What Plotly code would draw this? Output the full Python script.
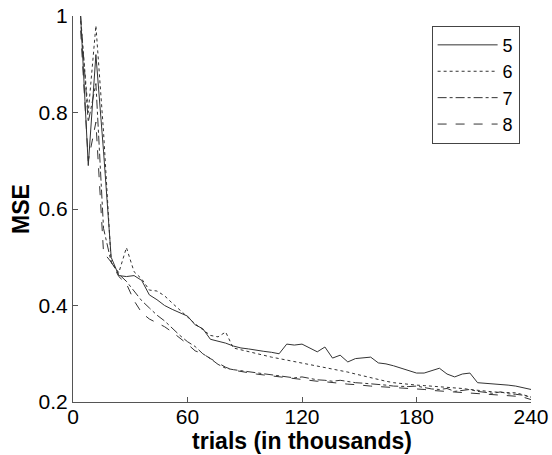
import plotly.graph_objects as go

trials = list(range(4, 241, 4))

mse_5 = [1.00, 0.69, 0.92, 0.72, 0.50, 0.462, 0.46, 0.462, 0.452, 0.422,
         0.412, 0.40, 0.392, 0.385, 0.378, 0.36, 0.352, 0.33, 0.326, 0.322,
         0.316, 0.312, 0.31, 0.307, 0.305, 0.303, 0.30, 0.32, 0.318, 0.32,
         0.312, 0.304, 0.314, 0.291, 0.297, 0.283, 0.29, 0.292, 0.293, 0.281,
         0.279, 0.275, 0.27, 0.264, 0.26, 0.26, 0.265, 0.27, 0.258, 0.252,
         0.258, 0.26, 0.24, 0.239, 0.238, 0.236, 0.235, 0.233, 0.229, 0.226]

mse_6 = [0.99, 0.80, 0.98, 0.76, 0.49, 0.468, 0.52, 0.47, 0.455, 0.432,
         0.43, 0.42, 0.405, 0.39, 0.375, 0.362, 0.35, 0.338, 0.335, 0.345,
         0.312, 0.308, 0.304, 0.30, 0.296, 0.293, 0.29, 0.287, 0.284, 0.281,
         0.278, 0.275, 0.272, 0.269, 0.266, 0.262, 0.258, 0.254, 0.25, 0.247,
         0.243, 0.24, 0.238, 0.236, 0.235, 0.234, 0.233, 0.232, 0.231, 0.229,
         0.228, 0.226, 0.224, 0.222, 0.221, 0.22, 0.22, 0.219, 0.215, 0.21]

mse_7 = [1.00, 0.78, 0.86, 0.56, 0.49, 0.465, 0.45, 0.43, 0.41, 0.395,
         0.38, 0.368, 0.352, 0.338, 0.325, 0.315, 0.30, 0.29, 0.278, 0.27,
         0.267, 0.265, 0.262, 0.26, 0.258, 0.257, 0.255, 0.253, 0.25, 0.252,
         0.249, 0.246, 0.245, 0.243, 0.245, 0.242, 0.24, 0.239, 0.238, 0.236,
         0.235, 0.233, 0.232, 0.232, 0.233, 0.23, 0.227, 0.226, 0.228, 0.222,
         0.224, 0.226, 0.222, 0.22, 0.218, 0.221, 0.217, 0.216, 0.214, 0.21]

mse_8 = [0.97, 0.70, 0.78, 0.51, 0.49, 0.46, 0.445, 0.41, 0.385, 0.372,
         0.364, 0.356, 0.345, 0.333, 0.32, 0.306, 0.30, 0.29, 0.281, 0.272,
         0.266, 0.263, 0.26, 0.258, 0.256, 0.254, 0.252, 0.25, 0.248, 0.246,
         0.245, 0.243, 0.242, 0.24, 0.238, 0.237, 0.236, 0.234, 0.233, 0.232,
         0.231, 0.23, 0.229, 0.228, 0.228, 0.226, 0.224, 0.223, 0.222, 0.221,
         0.22, 0.219, 0.218, 0.217, 0.216, 0.215, 0.213, 0.212, 0.21, 0.205]

series_names = ["5", "6", "7", "8"]
series_values = [mse_5, mse_6, mse_7, mse_8]
dashes = ["solid", "dot", "dashdot", "dash"]

x_ticks = [0, 60, 120, 180, 240]
y_ticks = [0.2, 0.4, 0.6, 0.8, 1.0]
y_tick_labels = ["0.2", "0.4", "0.6", "0.8", "1"]

fig = go.Figure()
for name, vals, dsh in zip(series_names, series_values, dashes):
    fig.add_trace(go.Scatter(x=trials, y=vals, mode="lines", name=name,
                             line=dict(color="#333333", width=1, dash=dsh)))

font_family = "Liberation Sans, Arial, sans-serif"
fig.update_layout(
    width=552, height=455,
    margin=dict(l=73, r=21, t=16, b=53, autoexpand=False),
    paper_bgcolor="white", plot_bgcolor="white",
    font=dict(family=font_family, size=21, color="black"),
    showlegend=True,
    legend=dict(x=0.783, y=0.975, xanchor="left", yanchor="top",
                bordercolor="#444", borderwidth=1, bgcolor="white",
                font=dict(size=18), tracegroupgap=0, itemwidth=60),
    xaxis=dict(range=[0, 240], tickvals=x_ticks, ticks="inside", ticklen=5,
               tickcolor="#555", showline=True, linecolor="#555", linewidth=1,
               showgrid=False, zeroline=False, mirror=False, automargin=False,
               ticklabelstandoff=-4,
               title=dict(text="<b>trials (in thousands)</b>",
                          font=dict(size=23), standoff=0),
               tickfont=dict(size=21)),
    yaxis=dict(range=[0.2, 1.0], tickvals=y_ticks, ticktext=y_tick_labels,
               ticks="inside", ticklen=5, tickcolor="#555", showline=True,
               linecolor="#555", linewidth=1, showgrid=False, zeroline=False,
               mirror=False, automargin=False,
               title=dict(text="<b>MSE</b>", font=dict(size=23), standoff=2),
               tickfont=dict(size=21)),
)

fig.write_html("out.html", config={"displayModeBar": False},
               post_script="document.body.style.margin='0';document.body.style.padding='0';")
